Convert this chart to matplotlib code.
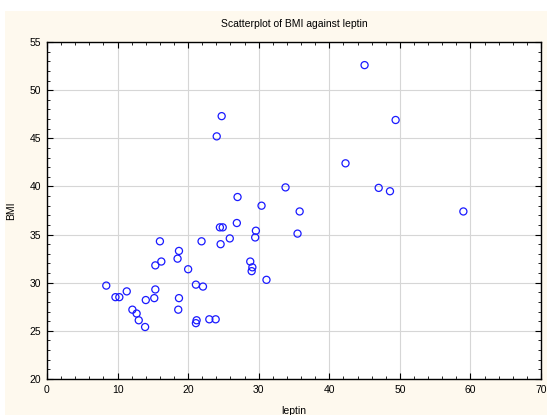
import matplotlib
matplotlib.use("agg")
import matplotlib.pyplot as plt
from matplotlib.patches import Rectangle
from matplotlib.ticker import MultipleLocator

# leptin vs BMI
leptin = [8.4, 9.7, 10.25, 11.3, 12.1, 12.7, 13.0, 13.9, 14.0, 15.2,
          15.35, 15.35, 16.2, 16.0, 18.6, 18.7, 18.5, 18.7, 20.0, 21.1,
          22.1, 21.2, 21.1, 23.0, 23.9, 21.9, 24.6, 25.9, 24.5, 24.9,
          26.9, 27.0, 24.05, 24.75, 28.8, 29.1, 29.0, 29.5, 29.6, 30.4,
          31.1, 33.8, 35.5, 35.8, 42.3, 45.0, 47.0, 48.6, 49.4, 59.0]
bmi = [29.7, 28.5, 28.5, 29.1, 27.2, 26.8, 26.1, 25.4, 28.2, 28.4,
       29.3, 31.8, 32.2, 34.3, 27.2, 28.4, 32.5, 33.3, 31.4, 29.8,
       29.6, 26.1, 25.8, 26.2, 26.2, 34.3, 34.0, 34.6, 35.75, 35.75,
       36.2, 38.9, 45.2, 47.3, 32.2, 31.6, 31.2, 34.7, 35.4, 38.0,
       30.3, 39.9, 35.1, 37.4, 42.4, 52.6, 39.85, 39.5, 46.9, 37.4]

plt.rcParams["font.family"] = ["Liberation Sans", "DejaVu Sans"]

fig = plt.figure(figsize=(5.47, 4.15), dpi=100, facecolor="white")
# cream panel behind the chart
fig.patches.append(Rectangle((5 / 547, 0), 1, (415 - 11) / 415,
                             transform=fig.transFigure, facecolor="#fef9ee",
                             edgecolor="none", zorder=-1))

ax = fig.add_axes([47 / 547, 36 / 415, 494 / 547, 337 / 415])
ax.set_facecolor("white")

ax.scatter(leptin, bmi, s=26, facecolors="none", edgecolors="#1a1aff",
           linewidths=0.9, zorder=3)

ax.set_xlim(0, 70)
ax.set_ylim(20, 55)
ax.xaxis.set_major_locator(MultipleLocator(10))
ax.xaxis.set_minor_locator(MultipleLocator(2))
ax.yaxis.set_major_locator(MultipleLocator(5))
ax.yaxis.set_minor_locator(MultipleLocator(1))

ax.grid(True, which="major", color="#d6d6d6", linewidth=0.8)
ax.set_axisbelow(True)
ax.tick_params(which="both", direction="in", top=True, right=True,
               labelsize=7.5, colors="black", pad=4)
ax.tick_params(which="major", length=4, width=0.8)
ax.tick_params(which="minor", length=2.5, width=0.6)
for s in ax.spines.values():
    s.set_linewidth(1.0)

ax.set_title("Scatterplot of BMI against leptin", fontsize=7.5, pad=11)
ax.set_xlabel("leptin", fontsize=7.5, labelpad=8)
ax.set_ylabel("BMI", fontsize=7.5, labelpad=10)

fig.savefig("out.png", dpi=100, facecolor=fig.get_facecolor())
